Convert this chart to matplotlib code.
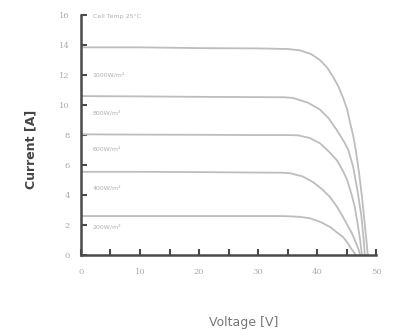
import matplotlib
matplotlib.use("Agg")
from matplotlib import pyplot as plt

# I-V curves (voltage in V, current in A)
V_1000 = [0, 10, 20, 30, 35, 37.1, 39, 40.5, 41.7, 42.7, 43.6, 44.4, 45.1, 45.6, 46.1, 46.6, 47.1, 47.6, 48.1, 48.6]
I_1000 = [13.85, 13.85, 13.8, 13.78, 13.74, 13.65, 13.4, 13.0, 12.5, 11.9, 11.25, 10.5, 9.7, 8.8, 8.0, 6.9, 5.5, 3.9, 2.0, 0]
V_800 = [0, 10, 20, 30, 34.5, 35.9, 38.5, 40.5, 42, 43.4, 44.5, 45.3, 46.1, 46.8, 47.5, 47.9, 48.1]
I_800 = [10.6, 10.58, 10.55, 10.53, 10.52, 10.48, 10.15, 9.7, 9.1, 8.3, 7.6, 7.0, 5.9, 4.4, 2.6, 1.0, 0]
V_600 = [0, 10, 20, 30, 35.5, 36.8, 38.8, 40.5, 42, 43.4, 44.4, 45.1, 45.8, 46.4, 46.9, 47.3, 47.6]
I_600 = [8.05, 8.03, 8.02, 8.0, 8.0, 7.98, 7.8, 7.45, 6.9, 6.3, 5.6, 5.0, 4.1, 3.2, 2.0, 1.0, 0]
V_400 = [0, 10, 20, 30, 34, 35.4, 37.5, 39.3, 40.8, 42.2, 43.4, 44.4, 45.2, 45.9, 46.5, 47.0, 47.3]
I_400 = [5.55, 5.55, 5.53, 5.5, 5.49, 5.46, 5.25, 4.87, 4.4, 3.87, 3.2, 2.53, 1.95, 1.45, 0.9, 0.4, 0]
V_200 = [0, 10, 20, 30, 33.5, 34.9, 37, 38.8, 40.6, 42.2, 43.4, 44.4, 45.1, 45.6, 46.2, 46.6]
I_200 = [2.6, 2.6, 2.6, 2.6, 2.6, 2.59, 2.55, 2.45, 2.2, 1.87, 1.5, 1.2, 0.85, 0.53, 0.2, 0]

CURVES = [(V_1000, I_1000), (V_800, I_800), (V_600, I_600), (V_400, I_400), (V_200, I_200)]
LABELS = ["Cell Temp 25\u00b0C", "1000W/m\u00b2", "800W/m\u00b2", "600W/m\u00b2", "400W/m\u00b2", "200W/m\u00b2"]
LABEL_Y = [15.9, 12.0, 9.5, 7.1, 4.5, 1.9]

X_TICKS = [0, 5, 10, 15, 20, 25, 30, 35, 40, 45, 50]
X_TICK_LABELS = ["0", "", "10", "", "20", "", "30", "", "40", "", "50"]
Y_TICKS = [0, 2, 4, 6, 8, 10, 12, 14, 16]

fig = plt.figure(figsize=(3.93, 3.36), dpi=100)
ax = fig.add_axes([0.206, 0.241, 0.751, 0.714])

for v, i in CURVES:
    ax.plot(v, i, color="#bdbdbd", lw=1.3)

for txt, y in zip(LABELS, LABEL_Y):
    ax.text(2.0, y, txt, fontsize=4.5, color="#b0b0b0", va="center", ha="left")

ax.set_xlim(0, 50)
ax.set_ylim(0, 16)
ax.set_xticks(X_TICKS)
ax.set_xticklabels(X_TICK_LABELS)
ax.set_yticks(Y_TICKS)

for side in ["top", "right"]:
    ax.spines[side].set_visible(False)
for side in ["left", "bottom"]:
    ax.spines[side].set_color("#4a4a4a")
    ax.spines[side].set_linewidth(1.8)

ax.tick_params(axis="both", direction="in", length=4, width=1.5, color="#4a4a4a",
               labelsize=6, labelcolor="#aaaaaa")
ax.tick_params(axis="x", pad=9)
ax.tick_params(axis="y", pad=8)
for lab in ax.get_xticklabels() + ax.get_yticklabels():
    lab.set_family("DejaVu Serif")

fig.text(0.078, 0.555, "Current [A]", rotation=90, fontsize=9, fontweight="bold",
         color="#444444", ha="center", va="center")
fig.text(0.62, 0.04, "Voltage [V]", fontsize=9, color="#777777", ha="center", va="center")

plt.savefig("out.png", dpi=100)
